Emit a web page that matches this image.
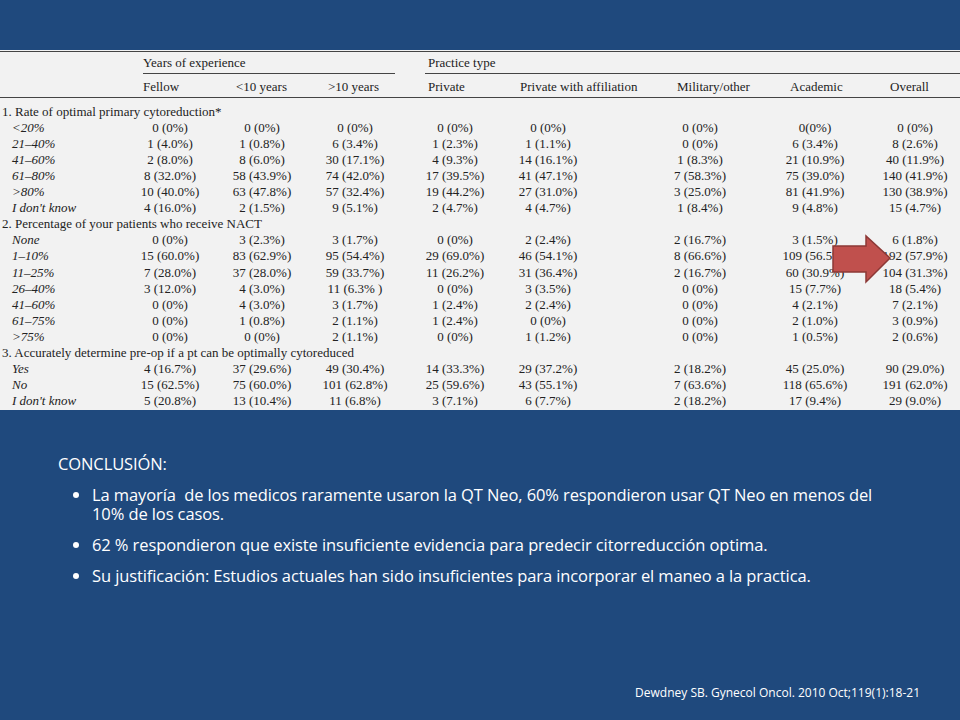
<!DOCTYPE html>
<html>
<head>
<meta charset="utf-8">
<title>Conclusión</title>
<script src="https://cdn.jsdelivr.net/npm/chart.js"></script>
<style>
  body { margin: 0; background: #1f497d; width: 960px; height: 720px; overflow: hidden; position: relative; }
  #panel { position: absolute; left: 0; top: 50px; width: 960px; height: 360px; background: #f2f2f2; font-family: 'Liberation Serif', serif; font-size: 13px; color: #222; }
  .cell { position: absolute; white-space: nowrap; transform: translateX(-50%); }
  .lab { position: absolute; white-space: nowrap; }
  .it { font-style: italic; }
  .rule { position: absolute; height: 1px; background: #444; }
  #notes { position: absolute; left: 58px; top: 454px; width: 835px; color: #fff; font-family: 'Open Sans', sans-serif; font-size: 16.5px; line-height: 19px; letter-spacing: -0.1px; }
  #notes ul { margin: 12px 0 0 0; padding-left: 34px; }
  #notes li { margin-bottom: 12px; }
  #ref { position: absolute; right: 40px; top: 684px; color: #fff; font-family: 'Open Sans', sans-serif; font-size: 12px; }
</style>
</head>
<body>
<div id="panel"></div>
<div id="notes">
  CONCLUSIÓN:
  <ul>
    <li>La mayoría &nbsp;de los medicos raramente usaron la QT Neo, 60% respondieron usar QT Neo en menos del 10% de los casos.</li>
    <li>62 % respondieron que existe insuficiente evidencia para predecir citorreducción optima.</li>
    <li>Su justificación: Estudios actuales han sido insuficientes para incorporar el maneo a la practica.</li>
  </ul>
</div>
<div id="ref">Dewdney SB. Gynecol Oncol. 2010 Oct;119(1):18-21</div>
<script>
const columns = ['Fellow', '<10 years', '>10 years', 'Private', 'Private with affiliation', 'Military/other', 'Academic', 'Overall'];
const sections = [
  '1. Rate of optimal primary cytoreduction*',
  '2. Percentage of your patients who receive NACT',
  '3. Accurately determine pre-op if a pt can be optimally cytoreduced'
];
const rowLabels = [
  ['<20%', '21–40%', '41–60%', '61–80%', '>80%', 'I don\'t know'],
  ['None', '1–10%', '11–25%', '26–40%', '41–60%', '61–75%', '>75%'],
  ['Yes', 'No', 'I don\'t know']
];
const values = [
  [
    ['0 (0%)', '0 (0%)', '0 (0%)', '0 (0%)', '0 (0%)', '0 (0%)', '0(0%)', '0 (0%)'],
    ['1 (4.0%)', '1 (0.8%)', '6 (3.4%)', '1 (2.3%)', '1 (1.1%)', '0 (0%)', '6 (3.4%)', '8 (2.6%)'],
    ['2 (8.0%)', '8 (6.0%)', '30 (17.1%)', '4 (9.3%)', '14 (16.1%)', '1 (8.3%)', '21 (10.9%)', '40 (11.9%)'],
    ['8 (32.0%)', '58 (43.9%)', '74 (42.0%)', '17 (39.5%)', '41 (47.1%)', '7 (58.3%)', '75 (39.0%)', '140 (41.9%)'],
    ['10 (40.0%)', '63 (47.8%)', '57 (32.4%)', '19 (44.2%)', '27 (31.0%)', '3 (25.0%)', '81 (41.9%)', '130 (38.9%)'],
    ['4 (16.0%)', '2 (1.5%)', '9 (5.1%)', '2 (4.7%)', '4 (4.7%)', '1 (8.4%)', '9 (4.8%)', '15 (4.7%)']
  ],
  [
    ['0 (0%)', '3 (2.3%)', '3 (1.7%)', '0 (0%)', '2 (2.4%)', '2 (16.7%)', '3 (1.5%)', '6 (1.8%)'],
    ['15 (60.0%)', '83 (62.9%)', '95 (54.4%)', '29 (69.0%)', '46 (54.1%)', '8 (66.6%)', '109 (56.5%)', '192 (57.9%)'],
    ['7 (28.0%)', '37 (28.0%)', '59 (33.7%)', '11 (26.2%)', '31 (36.4%)', '2 (16.7%)', '60 (30.9%)', '104 (31.3%)'],
    ['3 (12.0%)', '4 (3.0%)', '11 (6.3% )', '0 (0%)', '3 (3.5%)', '0 (0%)', '15 (7.7%)', '18 (5.4%)'],
    ['0 (0%)', '4 (3.0%)', '3 (1.7%)', '1 (2.4%)', '2 (2.4%)', '0 (0%)', '4 (2.1%)', '7 (2.1%)'],
    ['0 (0%)', '1 (0.8%)', '2 (1.1%)', '1 (2.4%)', '0 (0%)', '0 (0%)', '2 (1.0%)', '3 (0.9%)'],
    ['0 (0%)', '0 (0%)', '2 (1.1%)', '0 (0%)', '1 (1.2%)', '0 (0%)', '1 (0.5%)', '2 (0.6%)']
  ],
  [
    ['4 (16.7%)', '37 (29.6%)', '49 (30.4%)', '14 (33.3%)', '29 (37.2%)', '2 (18.2%)', '45 (25.0%)', '90 (29.0%)'],
    ['15 (62.5%)', '75 (60.0%)', '101 (62.8%)', '25 (59.6%)', '43 (55.1%)', '7 (63.6%)', '118 (65.6%)', '191 (62.0%)'],
    ['5 (20.8%)', '13 (10.4%)', '11 (6.8%)', '3 (7.1%)', '6 (7.7%)', '2 (18.2%)', '17 (9.4%)', '29 (9.0%)']
  ]
];

const panel = document.getElementById('panel');
const colX = [170, 262, 355, 455, 548, 700, 815, 915];
const headX = [143, 236, 328, 428, 520, 677, 790, 890];
function add(cls, text, x, y) {
  const d = document.createElement('div');
  d.className = cls; d.textContent = text;
  d.style.left = x + 'px'; d.style.top = y + 'px';
  panel.appendChild(d); return d;
}
function rule(x, y, w) {
  const d = document.createElement('div');
  d.className = 'rule';
  d.style.left = x + 'px'; d.style.top = y + 'px'; d.style.width = w + 'px';
  panel.appendChild(d);
}
rule(0, 1, 960);
add('lab', 'Years of experience', 143, 5);
add('lab', 'Practice type', 428, 5);
rule(143, 23, 252); rule(425, 23, 535);
columns.forEach((c, i) => add('lab', c, headX[i], 29));
rule(0, 47, 960);

let y = 54;
const step = 16.05;
sections.forEach((s, si) => {
  add('lab', s, 2, y); y += step;
  rowLabels[si].forEach((r, ri) => {
    add('lab it', r, 12, y);
    values[si][ri].forEach((v, ci) => add('cell', v, colX[ci], y));
    y += step;
  });
});

// red arrow pointing to the overall 1-10% value
const svgNS = 'http://www.w3.org/2000/svg';
const svg = document.createElementNS(svgNS, 'svg');
svg.setAttribute('width', 960); svg.setAttribute('height', 360);
svg.style.position = 'absolute'; svg.style.left = '0'; svg.style.top = '0';
const p = document.createElementNS(svgNS, 'polygon');
p.setAttribute('points', '833,196 866,196 866,186 890,208 866,232 866,222 833,222');
p.setAttribute('fill', '#c0504d'); p.setAttribute('stroke', '#8c3836'); p.setAttribute('stroke-width', '1.5');
svg.appendChild(p);
panel.appendChild(svg);
</script>
</body>
</html>
